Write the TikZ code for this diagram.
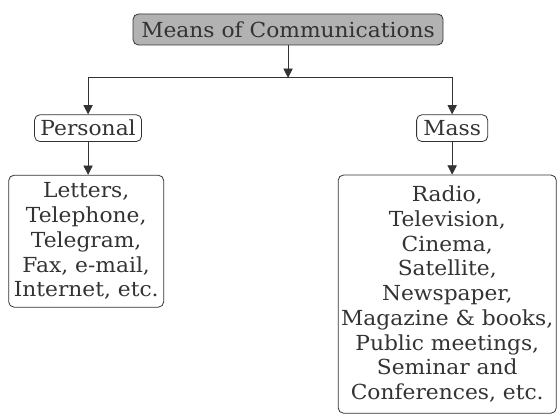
\documentclass[tikz,border=0pt]{standalone}
\usepackage{fontspec}
\setmainfont[FakeStretch=1.05]{DejaVu Serif}
\usepackage{tikz}
\usetikzlibrary{arrows.meta}

\begin{document}
\begin{tikzpicture}[auto]
        \tikzset{>={Triangle[length=7pt,width=7pt]}}
        \tikzstyle{every path}=[semithick,black!80]
        \tikzstyle{every node}=[rectangle,rounded corners=4pt,draw=black!80,text=black!80,semithick,inner sep=1pt,align=center,font=\fontsize{15.6pt}{18.6pt}\selectfont]
        \tikzstyle{headbox}=[fill=black!30]

        \useasboundingbox (0cm,0cm) rectangle (14.76cm,-10.98cm);

        \node[headbox,minimum width=8.20cm,minimum height=0.82cm] (means) at (7.62cm,-0.78cm) {Means of Communications};
        \node[minimum width=2.83cm,minimum height=0.71cm] (personal) at (2.33cm,-3.39cm) {Personal};
        \node[minimum width=1.88cm,minimum height=0.71cm] (mass) at (11.96cm,-3.39cm) {Mass};
        \node[minimum width=4.10cm,minimum height=3.49cm] (personallist) at (2.28cm,-6.38cm) {Letters,\\Telephone,\\Telegram,\\Fax, e-mail,\\Internet, etc.};
        \node[minimum width=5.77cm,minimum height=6.30cm] (masslist) at (11.83cm,-7.78cm) {Radio,\\Television,\\Cinema,\\Satellite,\\Newspaper,\\Magazine \& books,\\Public meetings,\\Seminar and\\Conferences, etc.};

        \coordinate (split) at (7.62cm,-2.06cm);

        \draw[->] (means) to (split);
        \draw[->] (split) -| (personal);
        \draw[->] (split) -| (mass);
        \draw[->] (personal) to (personallist.north -| personal);
        \draw[->] (mass) to (masslist.north -| mass);
    \end{tikzpicture}
\end{document}
